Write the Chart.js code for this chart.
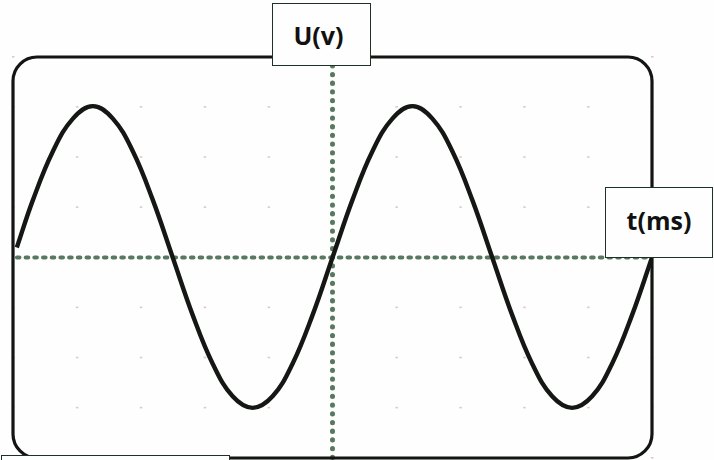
<!DOCTYPE html>
<html>
<head>
<meta charset="utf-8">
<script src="https://cdn.jsdelivr.net/npm/chart.js@4.4.1/dist/chart.umd.min.js"></script>
<style>
  html, body { margin: 0; padding: 0; background: #fdfefd; }
  #wrap { position: relative; width: 714px; height: 460px; overflow: hidden; }
  .lbl {
    position: absolute;
    box-sizing: border-box;
    background: #fdfefd;
    border: 1.5px solid #1c3226;
    font-family: "Open Sans", sans-serif;
    font-weight: bold;
    font-size: 25px;
    color: #111;
    display: flex;
    align-items: center;
    justify-content: center;
  }
</style>
</head>
<body>
<div id="wrap">
  <canvas id="scope" width="714" height="460"></canvas>
  <div class="lbl" style="left:272px;top:3px;width:99px;height:63px;padding-right:6px;">U(v)</div>
  <div class="lbl" style="left:605px;top:187px;width:108px;height:71px;padding-bottom:6px;">t(ms)</div>
  <div class="lbl" style="left:1px;top:455px;width:229px;height:20px;"></div>
</div>
<script>
document.addEventListener("DOMContentLoaded", function () {
  "use strict";
  // time in divisions, voltage in divisions
  const timeVals = [-4.94, -4.6875, -4.375, -4.0625, -3.75, -3.4375, -3.125, -2.8125, -2.5,
    -2.1875, -1.875, -1.5625, -1.25, -0.9375, -0.625, -0.3125, 0,
    0.3125, 0.625, 0.9375, 1.25, 1.5625, 1.875, 2.1875, 2.5,
    2.8125, 3.125, 3.4375, 3.75, 4.0625, 4.375, 4.6875, 5];
  const voltVals = [0.2, 1.15, 2.12, 2.77, 3.02, 2.77, 2.12, 1.15, 0,
    -1.15, -2.12, -2.77, -3.0, -2.77, -2.12, -1.15, 0,
    1.15, 2.12, 2.77, 3.02, 2.77, 2.12, 1.15, 0,
    -1.15, -2.12, -2.77, -3.0, -2.77, -2.12, -1.15, 0];
  // grid divisions
  const xTicks = [-5, -4, -3, -2, -1, 0, 1, 2, 3, 4, 5];
  const yTicks = [-4, -3, -2, -1, 0, 1, 2, 3, 4];

  const points = timeVals.map((t, i) => ({ x: t, y: voltVals[i] }));

  // draws the screen: faint grid dots, dotted axes and the rounded frame
  const scopePlugin = {
    id: "scope",
    beforeDatasetsDraw(chart) {
      const c = chart.ctx;
      const xs = chart.scales.x;
      const ys = chart.scales.y;
      const area = chart.chartArea;
      c.save();
      // faint grid dots
      c.fillStyle = "rgba(214, 170, 178, 0.7)";
      xTicks.forEach((tx) => {
        yTicks.forEach((ty) => {
          if (tx === 0 || ty === 0) return;
          c.fillRect(xs.getPixelForValue(tx) - 1, ys.getPixelForValue(ty) - 1, 2.5, 1.5);
        });
      });
      // dotted axes
      const x0 = xs.getPixelForValue(0);
      const y0 = ys.getPixelForValue(0);
      c.strokeStyle = "#58795f";
      c.lineCap = "round";
      c.lineWidth = 4.2;
      c.setLineDash([2.4, 6.3]);
      c.beginPath();
      c.moveTo(area.left + 4, y0);
      c.lineTo(area.right - 3, y0);
      c.stroke();
      c.lineWidth = 5;
      c.setLineDash([0.3, 8.4]);
      c.beginPath();
      c.moveTo(x0, area.top);
      c.lineTo(x0, 470);
      c.stroke();
      c.restore();
    },
    afterDatasetsDraw(chart) {
      const c = chart.ctx;
      const a = chart.chartArea;
      const r = 24;
      c.save();
      c.strokeStyle = "#121512";
      c.lineWidth = 3.2;
      c.beginPath();
      c.moveTo(a.left + r, a.top);
      c.lineTo(a.right - r, a.top);
      c.arcTo(a.right, a.top, a.right, a.top + r, r);
      c.lineTo(a.right, a.bottom - r);
      c.arcTo(a.right, a.bottom, a.right - r, a.bottom, r);
      c.lineTo(a.left + r, a.bottom);
      c.arcTo(a.left, a.bottom, a.left, a.bottom - r, r);
      c.lineTo(a.left, a.top + r);
      c.arcTo(a.left, a.top, a.left + r, a.top, r);
      c.closePath();
      c.stroke();
      c.restore();
    },
  };

  new Chart(document.getElementById("scope"), {
    type: "line",
    data: {
      datasets: [
        {
          label: "U",
          data: points,
          borderColor: "#141714",
          borderWidth: 4.4,
          pointRadius: 0,
          tension: 0.4,
          fill: false,
        },
      ],
    },
    options: {
      responsive: false,
      animation: false,
      devicePixelRatio: 1,
      layout: { padding: { left: 13, right: 62, top: 57, bottom: 2 } },
      plugins: { legend: { display: false }, tooltip: { enabled: false } },
      scales: {
        x: { type: "linear", min: -5, max: 5, display: false },
        y: { type: "linear", min: -4, max: 4, display: false },
      },
    },
    plugins: [scopePlugin],
  });
});
</script>
</body>
</html>
